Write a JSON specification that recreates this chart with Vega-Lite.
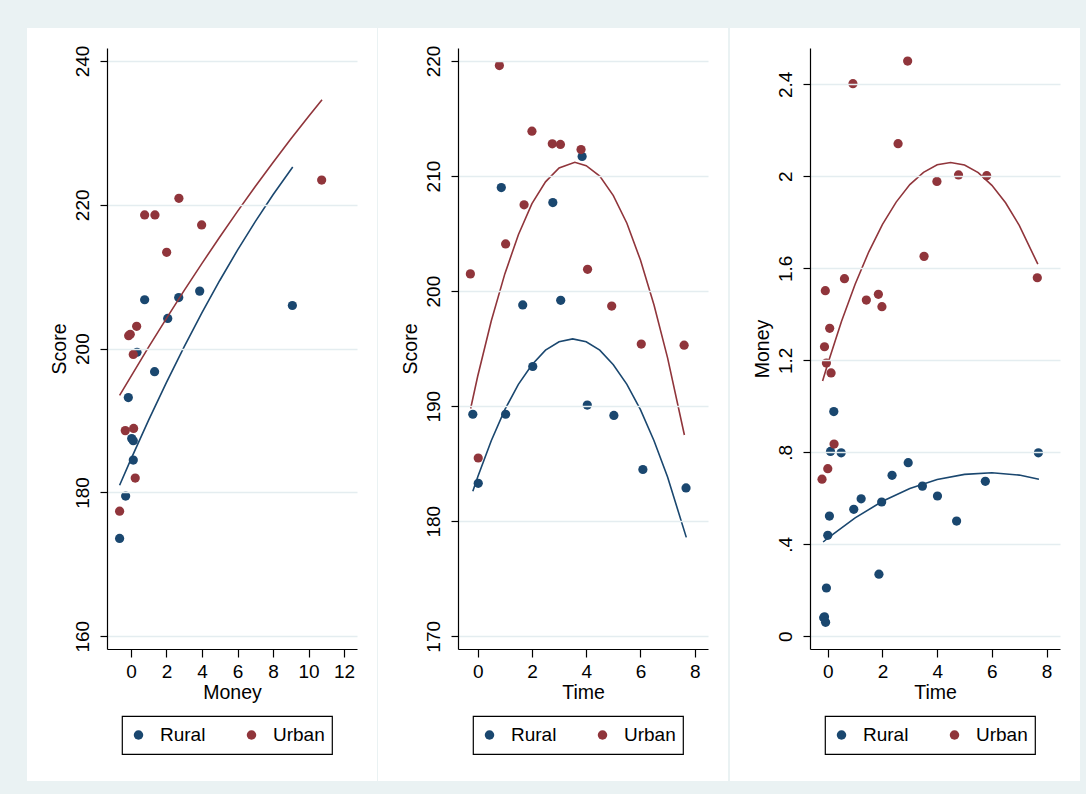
{
  "$schema": "https://vega.github.io/schema/vega-lite/v6.json",
  "background": "#EAF2F3",
  "padding": {"left": 26, "top": 27, "right": 8, "bottom": 14},
  "spacing": 1,
  "config": {
    "view": {"stroke": null},
    "font": "Liberation Sans",
    "axis": {
      "labelFont": "Liberation Sans", "labelFontSize": 19, "labelColor": "#000",
      "titleFont": "Liberation Sans", "titleFontSize": 19.5, "titleFontWeight": "normal", "titleColor": "#000",
      "domainColor": "#000", "domainWidth": 1.2, "tickColor": "#000", "tickWidth": 1.2,
      "gridColor": "#E4EDF0", "gridWidth": 1.3
    },
    "axisX": {"grid": false, "tickSize": 8, "labelPadding": 5, "titlePadding": 2, "labelAngle": 0},
    "axisY": {"grid": true, "tickSize": 7, "labelAngle": -90, "labelAlign": "center", "labelBaseline": "bottom", "labelPadding": 8, "titlePadding": 4},
    "legend": {
      "orient": "none", "legendX": 15, "legendY": 668, "direction": "horizontal",
      "title": null, "labelFont": "Liberation Sans", "labelFontSize": 19, "labelColor": "#000",
      "symbolType": "circle", "symbolSize": 90, "symbolStrokeWidth": 0,
      "strokeColor": "#000", "strokeWidth": 1.2, "fillColor": "white", "padding": 7,
      "clipHeight": 24,
      "columnPadding": 36, "labelOffset": 12
    }
  },
  "datasets": {
    "p1": [
      {"Money": -0.64, "Score": 173.6, "grp": "Rural"},
      {"Money": -0.30, "Score": 179.5, "grp": "Rural"},
      {"Money": 0.13, "Score": 184.5, "grp": "Rural"},
      {"Money": 0.04, "Score": 187.5, "grp": "Rural"},
      {"Money": 0.13, "Score": 187.2, "grp": "Rural"},
      {"Money": -0.15, "Score": 193.2, "grp": "Rural"},
      {"Money": 1.33, "Score": 196.8, "grp": "Rural"},
      {"Money": 0.34, "Score": 199.5, "grp": "Rural"},
      {"Money": 2.07, "Score": 204.2, "grp": "Rural"},
      {"Money": 0.77, "Score": 206.8, "grp": "Rural"},
      {"Money": 2.69, "Score": 207.1, "grp": "Rural"},
      {"Money": 3.87, "Score": 208.0, "grp": "Rural"},
      {"Money": 9.09, "Score": 206.0, "grp": "Rural"},
      {"Money": -0.64, "Score": 177.4, "grp": "Urban"},
      {"Money": 0.24, "Score": 182.0, "grp": "Urban"},
      {"Money": -0.32, "Score": 188.6, "grp": "Urban"},
      {"Money": 0.15, "Score": 188.9, "grp": "Urban"},
      {"Money": 0.13, "Score": 199.2, "grp": "Urban"},
      {"Money": -0.13, "Score": 201.8, "grp": "Urban"},
      {"Money": -0.04, "Score": 202.0, "grp": "Urban"},
      {"Money": 0.32, "Score": 203.1, "grp": "Urban"},
      {"Money": 2.01, "Score": 213.4, "grp": "Urban"},
      {"Money": 3.98, "Score": 217.2, "grp": "Urban"},
      {"Money": 0.77, "Score": 218.6, "grp": "Urban"},
      {"Money": 1.35, "Score": 218.6, "grp": "Urban"},
      {"Money": 2.70, "Score": 220.9, "grp": "Urban"},
      {"Money": 10.74, "Score": 223.45, "grp": "Urban"}
    ],
    "f1": [
      {"Money": -0.64, "Score": 181.0, "grp": "Rural"},
      {"Money": 0, "Score": 184.63, "grp": "Rural"},
      {"Money": 1, "Score": 190.09, "grp": "Rural"},
      {"Money": 2, "Score": 195.31, "grp": "Rural"},
      {"Money": 3, "Score": 200.28, "grp": "Rural"},
      {"Money": 4, "Score": 205.0, "grp": "Rural"},
      {"Money": 5, "Score": 209.48, "grp": "Rural"},
      {"Money": 6, "Score": 213.7, "grp": "Rural"},
      {"Money": 7, "Score": 217.67, "grp": "Rural"},
      {"Money": 8, "Score": 221.4, "grp": "Rural"},
      {"Money": 9.11, "Score": 225.26, "grp": "Rural"},
      {"Money": -0.64, "Score": 193.5, "grp": "Urban"},
      {"Money": 1, "Score": 200.25, "grp": "Urban"},
      {"Money": 2, "Score": 204.22, "grp": "Urban"},
      {"Money": 3, "Score": 208.1, "grp": "Urban"},
      {"Money": 4, "Score": 211.86, "grp": "Urban"},
      {"Money": 5, "Score": 215.53, "grp": "Urban"},
      {"Money": 6, "Score": 219.09, "grp": "Urban"},
      {"Money": 7, "Score": 222.55, "grp": "Urban"},
      {"Money": 8, "Score": 225.9, "grp": "Urban"},
      {"Money": 9, "Score": 229.15, "grp": "Urban"},
      {"Money": 10, "Score": 232.29, "grp": "Urban"},
      {"Money": 10.76, "Score": 234.6, "grp": "Urban"}
    ],
    "p2": [
      {"Time": -0.18, "Score": 189.3, "grp": "Rural"},
      {"Time": 0.02, "Score": 183.3, "grp": "Rural"},
      {"Time": 1.03, "Score": 189.3, "grp": "Rural"},
      {"Time": 0.87, "Score": 209.0, "grp": "Rural"},
      {"Time": 2.03, "Score": 193.45, "grp": "Rural"},
      {"Time": 1.66, "Score": 198.8, "grp": "Rural"},
      {"Time": 2.77, "Score": 207.7, "grp": "Rural"},
      {"Time": 3.06, "Score": 199.2, "grp": "Rural"},
      {"Time": 3.85, "Score": 211.7, "grp": "Rural"},
      {"Time": 4.04, "Score": 190.1, "grp": "Rural"},
      {"Time": 5.02, "Score": 189.2, "grp": "Rural"},
      {"Time": 6.09, "Score": 184.5, "grp": "Rural"},
      {"Time": 7.68, "Score": 182.9, "grp": "Rural"},
      {"Time": -0.27, "Score": 201.5, "grp": "Urban"},
      {"Time": 0.02, "Score": 185.5, "grp": "Urban"},
      {"Time": 0.80, "Score": 219.6, "grp": "Urban"},
      {"Time": 1.03, "Score": 204.1, "grp": "Urban"},
      {"Time": 1.71, "Score": 207.5, "grp": "Urban"},
      {"Time": 2.00, "Score": 213.9, "grp": "Urban"},
      {"Time": 2.75, "Score": 212.8, "grp": "Urban"},
      {"Time": 3.05, "Score": 212.75, "grp": "Urban"},
      {"Time": 3.81, "Score": 212.3, "grp": "Urban"},
      {"Time": 4.05, "Score": 201.9, "grp": "Urban"},
      {"Time": 4.94, "Score": 198.7, "grp": "Urban"},
      {"Time": 6.03, "Score": 195.4, "grp": "Urban"},
      {"Time": 7.61, "Score": 195.3, "grp": "Urban"}
    ],
    "f2": [
      {"Time": -0.18, "Score": 182.6, "grp": "Rural"},
      {"Time": 0, "Score": 183.85, "grp": "Rural"},
      {"Time": 0.5, "Score": 187.0, "grp": "Rural"},
      {"Time": 1, "Score": 189.7, "grp": "Rural"},
      {"Time": 1.5, "Score": 191.9, "grp": "Rural"},
      {"Time": 2, "Score": 193.6, "grp": "Rural"},
      {"Time": 2.5, "Score": 194.87, "grp": "Rural"},
      {"Time": 3, "Score": 195.6, "grp": "Rural"},
      {"Time": 3.5, "Score": 195.85, "grp": "Rural"},
      {"Time": 4, "Score": 195.6, "grp": "Rural"},
      {"Time": 4.5, "Score": 194.87, "grp": "Rural"},
      {"Time": 5, "Score": 193.6, "grp": "Rural"},
      {"Time": 5.5, "Score": 191.9, "grp": "Rural"},
      {"Time": 6, "Score": 189.7, "grp": "Rural"},
      {"Time": 6.5, "Score": 187.0, "grp": "Rural"},
      {"Time": 7, "Score": 183.85, "grp": "Rural"},
      {"Time": 7.69, "Score": 178.6, "grp": "Rural"},
      {"Time": -0.26, "Score": 189.8, "grp": "Urban"},
      {"Time": 0, "Score": 192.6, "grp": "Urban"},
      {"Time": 0.5, "Score": 197.4, "grp": "Urban"},
      {"Time": 1, "Score": 201.5, "grp": "Urban"},
      {"Time": 1.5, "Score": 204.9, "grp": "Urban"},
      {"Time": 2, "Score": 207.6, "grp": "Urban"},
      {"Time": 2.5, "Score": 209.5, "grp": "Urban"},
      {"Time": 3, "Score": 210.7, "grp": "Urban"},
      {"Time": 3.58, "Score": 211.2, "grp": "Urban"},
      {"Time": 4, "Score": 210.9, "grp": "Urban"},
      {"Time": 4.5, "Score": 210.0, "grp": "Urban"},
      {"Time": 5, "Score": 208.3, "grp": "Urban"},
      {"Time": 5.5, "Score": 205.9, "grp": "Urban"},
      {"Time": 6, "Score": 202.7, "grp": "Urban"},
      {"Time": 6.5, "Score": 198.8, "grp": "Urban"},
      {"Time": 7, "Score": 194.2, "grp": "Urban"},
      {"Time": 7.62, "Score": 187.5, "grp": "Urban"}
    ],
    "p3": [
      {"Time": 0.22, "Money": 0.977, "grp": "Rural"},
      {"Time": 0.10, "Money": 0.804, "grp": "Rural"},
      {"Time": 0.49, "Money": 0.798, "grp": "Rural"},
      {"Time": 7.70, "Money": 0.798, "grp": "Rural"},
      {"Time": 2.94, "Money": 0.755, "grp": "Rural"},
      {"Time": 2.35, "Money": 0.700, "grp": "Rural"},
      {"Time": 5.76, "Money": 0.674, "grp": "Rural"},
      {"Time": 3.46, "Money": 0.653, "grp": "Rural"},
      {"Time": 4.01, "Money": 0.610, "grp": "Rural"},
      {"Time": 1.22, "Money": 0.598, "grp": "Rural"},
      {"Time": 1.97, "Money": 0.584, "grp": "Rural"},
      {"Time": 0.95, "Money": 0.552, "grp": "Rural"},
      {"Time": 0.06, "Money": 0.523, "grp": "Rural"},
      {"Time": 4.71, "Money": 0.501, "grp": "Rural"},
      {"Time": 0.0, "Money": 0.439, "grp": "Rural"},
      {"Time": 1.87, "Money": 0.270, "grp": "Rural"},
      {"Time": -0.05, "Money": 0.210, "grp": "Rural"},
      {"Time": -0.12, "Money": 0.085, "grp": "Rural"},
      {"Time": -0.15, "Money": 0.081, "grp": "Rural"},
      {"Time": -0.08, "Money": 0.061, "grp": "Rural"},
      {"Time": 2.92, "Money": 2.501, "grp": "Urban"},
      {"Time": 0.92, "Money": 2.403, "grp": "Urban"},
      {"Time": 2.57, "Money": 2.142, "grp": "Urban"},
      {"Time": 3.99, "Money": 1.978, "grp": "Urban"},
      {"Time": 4.78, "Money": 2.006, "grp": "Urban"},
      {"Time": 5.81, "Money": 2.003, "grp": "Urban"},
      {"Time": 3.52, "Money": 1.652, "grp": "Urban"},
      {"Time": 7.66, "Money": 1.559, "grp": "Urban"},
      {"Time": 0.61, "Money": 1.555, "grp": "Urban"},
      {"Time": -0.09, "Money": 1.503, "grp": "Urban"},
      {"Time": 1.41, "Money": 1.462, "grp": "Urban"},
      {"Time": 1.85, "Money": 1.487, "grp": "Urban"},
      {"Time": 1.98, "Money": 1.433, "grp": "Urban"},
      {"Time": 0.07, "Money": 1.339, "grp": "Urban"},
      {"Time": -0.12, "Money": 1.259, "grp": "Urban"},
      {"Time": -0.05, "Money": 1.188, "grp": "Urban"},
      {"Time": 0.12, "Money": 1.145, "grp": "Urban"},
      {"Time": 0.23, "Money": 0.836, "grp": "Urban"},
      {"Time": 0.0, "Money": 0.729, "grp": "Urban"},
      {"Time": -0.21, "Money": 0.683, "grp": "Urban"}
    ],
    "f3": [
      {"Time": -0.17, "Money": 0.410, "grp": "Rural"},
      {"Time": 0, "Money": 0.427, "grp": "Rural"},
      {"Time": 1, "Money": 0.515, "grp": "Rural"},
      {"Time": 2, "Money": 0.587, "grp": "Rural"},
      {"Time": 3, "Money": 0.643, "grp": "Rural"},
      {"Time": 4, "Money": 0.682, "grp": "Rural"},
      {"Time": 5, "Money": 0.704, "grp": "Rural"},
      {"Time": 6, "Money": 0.711, "grp": "Rural"},
      {"Time": 7, "Money": 0.701, "grp": "Rural"},
      {"Time": 7.72, "Money": 0.683, "grp": "Rural"},
      {"Time": -0.19, "Money": 1.110, "grp": "Urban"},
      {"Time": 0, "Money": 1.185, "grp": "Urban"},
      {"Time": 0.5, "Money": 1.369, "grp": "Urban"},
      {"Time": 1, "Money": 1.531, "grp": "Urban"},
      {"Time": 1.5, "Money": 1.672, "grp": "Urban"},
      {"Time": 2, "Money": 1.791, "grp": "Urban"},
      {"Time": 2.5, "Money": 1.888, "grp": "Urban"},
      {"Time": 3, "Money": 1.964, "grp": "Urban"},
      {"Time": 3.5, "Money": 2.017, "grp": "Urban"},
      {"Time": 4, "Money": 2.050, "grp": "Urban"},
      {"Time": 4.49, "Money": 2.060, "grp": "Urban"},
      {"Time": 5, "Money": 2.049, "grp": "Urban"},
      {"Time": 5.5, "Money": 2.016, "grp": "Urban"},
      {"Time": 6, "Money": 1.961, "grp": "Urban"},
      {"Time": 6.5, "Money": 1.885, "grp": "Urban"},
      {"Time": 7, "Money": 1.787, "grp": "Urban"},
      {"Time": 7.68, "Money": 1.618, "grp": "Urban"}
    ]
  },
  "hconcat": [
    {
      "width": 250, "height": 601,
      "layer": [
        {
          "data": {"values": [{}]},
          "mark": {"type": "rect", "fill": "white", "clip": false},
          "encoding": {
            "x": {"datum": -5.856, "type": "quantitative", "scale": {"domain": [-1.35, 12.73], "nice": false, "zero": false}, "axis": {"title": "Money", "values": [0, 2, 4, 6, 8, 10, 12], "zindex": 1}},
            "x2": {"datum": 13.856},
            "y": {"datum": 139.873, "type": "quantitative", "scale": {"domain": [158.23, 241.81], "nice": false, "zero": false}, "axis": {"title": "Score", "values": [160, 180, 200, 220, 240], "zindex": 1}},
            "y2": {"datum": 244.59}
          }
        },
        {
          "data": {"name": "p1"},
          "mark": {"type": "circle", "size": 85, "opacity": 1},
          "encoding": {
            "x": {"field": "Money", "type": "quantitative", "scale": {"domain": [-1.35, 12.73], "nice": false, "zero": false}, "axis": {"title": "Money", "zindex": 1}},
            "y": {"field": "Score", "type": "quantitative", "scale": {"domain": [158.23, 241.81], "nice": false, "zero": false}, "axis": {"title": "Score", "zindex": 1}},
            "color": {"field": "grp", "type": "nominal", "scale": {"domain": ["Rural", "Urban"], "range": ["#1A476F", "#90353B"]}}
          }
        },
        {
          "data": {"name": "f1"},
          "mark": {"type": "line", "strokeWidth": 1.6},
          "encoding": {
            "x": {"field": "Money", "type": "quantitative", "scale": {"domain": [-1.35, 12.73], "nice": false, "zero": false}, "axis": {"title": "Money", "zindex": 1}},
            "y": {"field": "Score", "type": "quantitative", "scale": {"domain": [158.23, 241.81], "nice": false, "zero": false}, "axis": {"title": "Score", "zindex": 1}},
            "stroke": {"field": "grp", "type": "nominal", "scale": {"domain": ["Rural", "Urban"], "range": ["#1A476F", "#90353B"]}, "legend": null}
          }
        }
      ]
    },
    {
      "width": 250, "height": 601,
      "layer": [
        {
          "data": {"values": [{}]},
          "mark": {"type": "rect", "fill": "white", "clip": false},
          "encoding": {
            "x": {"datum": -3.675, "type": "quantitative", "scale": {"domain": [-0.726, 8.49], "nice": false, "zero": false}, "axis": {"title": "Time", "values": [0, 2, 4, 6, 8], "zindex": 1}},
            "x2": {"datum": 9.227},
            "y": {"datum": 157.429, "type": "quantitative", "scale": {"domain": [168.9, 221.13], "nice": false, "zero": false}, "axis": {"title": "Score", "values": [170, 180, 190, 200, 210, 220], "zindex": 1}},
            "y2": {"datum": 222.868}
          }
        },
        {
          "data": {"name": "p2"},
          "mark": {"type": "circle", "size": 85, "opacity": 1},
          "encoding": {
            "x": {"field": "Time", "type": "quantitative", "scale": {"domain": [-0.726, 8.49], "nice": false, "zero": false}, "axis": {"title": "Time", "zindex": 1}},
            "y": {"field": "Score", "type": "quantitative", "scale": {"domain": [168.9, 221.13], "nice": false, "zero": false}, "axis": {"title": "Score", "zindex": 1}},
            "color": {"field": "grp", "type": "nominal", "scale": {"domain": ["Rural", "Urban"], "range": ["#1A476F", "#90353B"]}}
          }
        },
        {
          "data": {"name": "f2"},
          "mark": {"type": "line", "strokeWidth": 1.6},
          "encoding": {
            "x": {"field": "Time", "type": "quantitative", "scale": {"domain": [-0.726, 8.49], "nice": false, "zero": false}, "axis": {"title": "Time", "zindex": 1}},
            "y": {"field": "Score", "type": "quantitative", "scale": {"domain": [168.9, 221.13], "nice": false, "zero": false}, "axis": {"title": "Score", "zindex": 1}},
            "stroke": {"field": "grp", "type": "nominal", "scale": {"domain": ["Rural", "Urban"], "range": ["#1A476F", "#90353B"]}, "legend": null}
          }
        }
      ]
    },
    {
      "width": 250, "height": 601,
      "layer": [
        {
          "data": {"values": [{}]},
          "mark": {"type": "rect", "fill": "white", "clip": false},
          "encoding": {
            "x": {"datum": -3.575, "type": "quantitative", "scale": {"domain": [-0.65, 8.49], "nice": false, "zero": false}, "axis": {"title": "Time", "values": [0, 2, 4, 6, 8], "zindex": 1}},
            "x2": {"datum": 9.221},
            "y": {"datum": -0.6291, "type": "quantitative", "scale": {"domain": [-0.0552, 2.558], "nice": false, "zero": false}, "axis": {"title": "Money", "values": [0, 0.4, 0.8, 1.2, 1.6, 2, 2.4], "labelExpr": "replace(format(datum.value, '~g'), '0.', '.')", "zindex": 1}},
            "y2": {"datum": 2.645}
          }
        },
        {
          "data": {"name": "p3"},
          "mark": {"type": "circle", "size": 85, "opacity": 1},
          "encoding": {
            "x": {"field": "Time", "type": "quantitative", "scale": {"domain": [-0.65, 8.49], "nice": false, "zero": false}, "axis": {"title": "Time", "zindex": 1}},
            "y": {"field": "Money", "type": "quantitative", "scale": {"domain": [-0.0552, 2.558], "nice": false, "zero": false}, "axis": {"title": "Money", "zindex": 1}},
            "color": {"field": "grp", "type": "nominal", "scale": {"domain": ["Rural", "Urban"], "range": ["#1A476F", "#90353B"]}}
          }
        },
        {
          "data": {"name": "f3"},
          "mark": {"type": "line", "strokeWidth": 1.6},
          "encoding": {
            "x": {"field": "Time", "type": "quantitative", "scale": {"domain": [-0.65, 8.49], "nice": false, "zero": false}, "axis": {"title": "Time", "zindex": 1}},
            "y": {"field": "Money", "type": "quantitative", "scale": {"domain": [-0.0552, 2.558], "nice": false, "zero": false}, "axis": {"title": "Money", "zindex": 1}},
            "stroke": {"field": "grp", "type": "nominal", "scale": {"domain": ["Rural", "Urban"], "range": ["#1A476F", "#90353B"]}, "legend": null}
          }
        }
      ]
    }
  ],
  "resolve": {"legend": {"color": "independent"}}
}
